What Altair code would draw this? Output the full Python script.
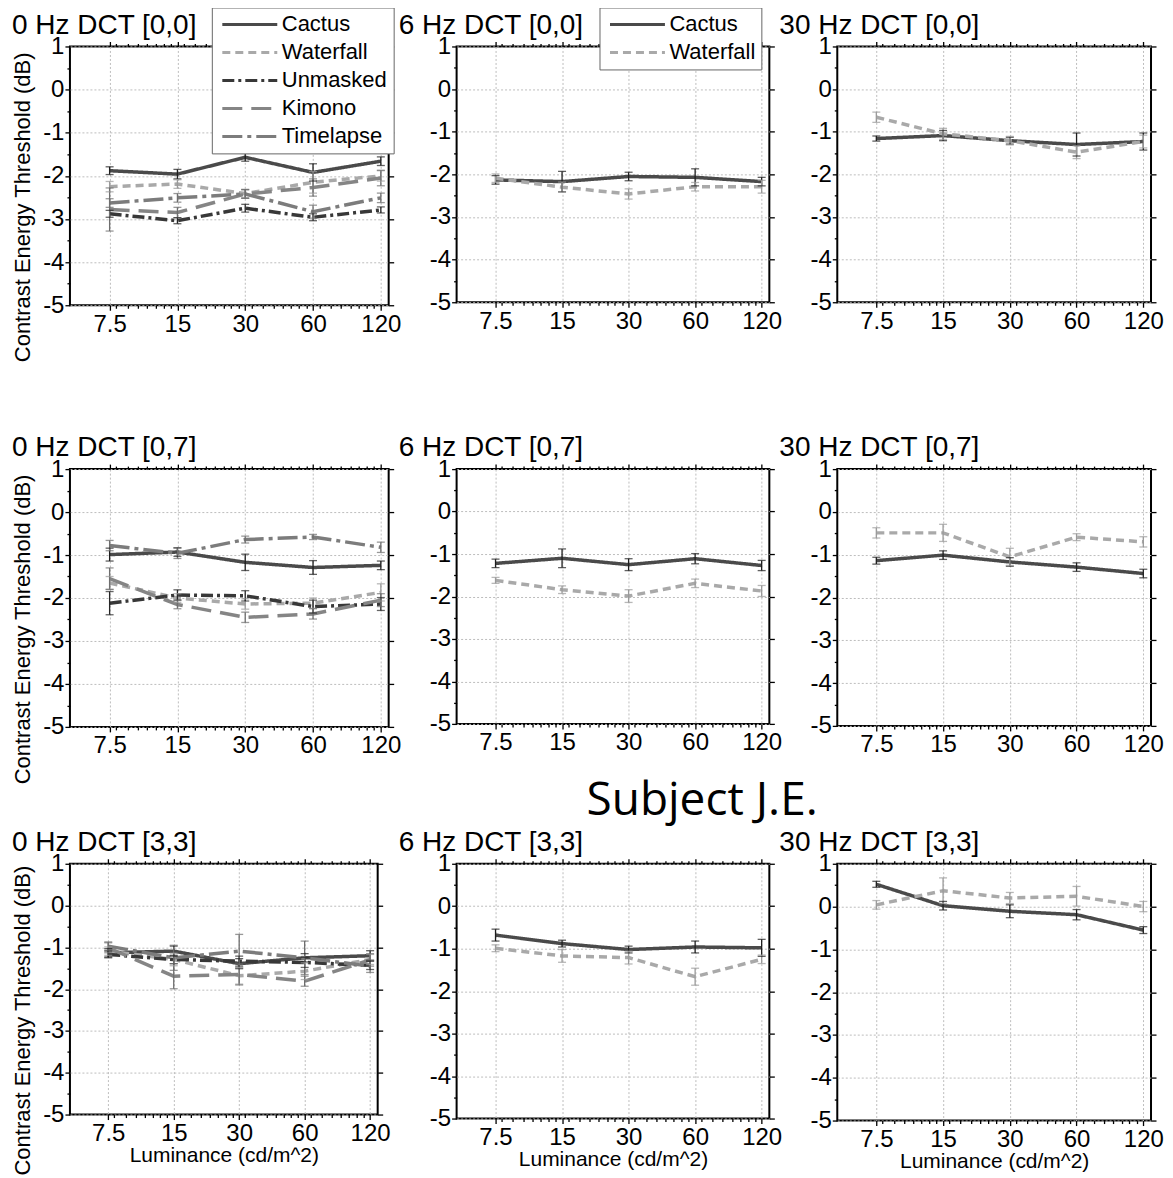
import altair as alt
import pandas as pd

FONT = "Liberation Sans"
BIG_FONT = "Open Sans"

LUMINANCE = [7.5, 15, 30, 60, 120]
SERIES = ["Cactus", "Waterfall", "Unmasked", "Kimono", "Timelapse"]

X_MAJOR = [7.5, 15, 30, 60, 120]
X_MINOR = [8, 9, 10, 11, 12, 13, 14, 16, 18, 20, 22, 24, 26, 28,
           32, 36, 40, 44, 48, 52, 56, 64, 72, 80, 88, 96, 104, 112]
X_DOMAIN = [5, 130]
Y_TICKS = [-5, -4.5, -4, -3.5, -3, -2.5, -2, -1.5, -1, -0.5, 0, 0.5, 1]
Y_MAJOR = [-5, -4, -3, -2, -1, 0, 1]
Y_DOMAIN = [-5, 1]

LINE_COLOR = ["#4a4a4a", "#a9a9a9", "#383838", "#858585", "#7c7c7c"]
ERR_COLOR = ["#1e1e1e", "#9a9a9a", "#262626", "#6e6e6e", "#6e6e6e"]
DASH = [[1, 0], [8, 5], [12, 4, 3, 4], [20, 9], [20, 5, 4, 5]]

# ---- 0 Hz DCT [0,0]
M_0HZ_00 = {
    "Cactus":    [-1.88, -1.96, -1.57, -1.92, -1.66],
    "Waterfall": [-2.25, -2.19, -2.41, -2.15, -2.00],
    "Unmasked":  [-2.88, -3.04, -2.75, -2.96, -2.79],
    "Kimono":    [-2.78, -2.85, -2.42, -2.27, -2.05],
    "Timelapse": [-2.63, -2.51, -2.42, -2.83, -2.51],
}
E_0HZ_00 = {
    "Cactus":    [0.09, 0.11, 0.09, 0.20, 0.10],
    "Waterfall": [0.12, 0.10, 0.10, 0.25, 0.12],
    "Unmasked":  [0.08, 0.07, 0.09, 0.08, 0.07],
    "Kimono":    [0.50, 0.12, 0.10, 0.20, 0.18],
    "Timelapse": [0.10, 0.10, 0.10, 0.15, 0.11],
}
# ---- 6 Hz DCT [0,0]
M_6HZ_00 = {
    "Cactus":    [-2.13, -2.17, -2.05, -2.07, -2.17],
    "Waterfall": [-2.09, -2.30, -2.46, -2.29, -2.29],
}
E_6HZ_00 = {
    "Cactus":    [0.10, 0.24, 0.10, 0.20, 0.10],
    "Waterfall": [0.10, 0.12, 0.12, 0.10, 0.15],
}
# ---- 30 Hz DCT [0,0]
M_30HZ_00 = {
    "Cactus":    [-1.16, -1.09, -1.21, -1.30, -1.23],
    "Waterfall": [-0.66, -1.05, -1.21, -1.48, -1.23],
}
E_30HZ_00 = {
    "Cactus":    [0.06, 0.12, 0.08, 0.27, 0.20],
    "Waterfall": [0.12, 0.13, 0.10, 0.15, 0.15],
}
# ---- 0 Hz DCT [0,7]
M_0HZ_07 = {
    "Cactus":    [-0.99, -0.93, -1.17, -1.29, -1.24],
    "Waterfall": [-1.65, -2.00, -2.14, -2.12, -1.87],
    "Unmasked":  [-2.12, -1.93, -1.95, -2.20, -2.14],
    "Kimono":    [-1.55, -2.15, -2.45, -2.37, -2.05],
    "Timelapse": [-0.78, -0.96, -0.64, -0.58, -0.82],
}
E_0HZ_07 = {
    "Cactus":    [0.15, 0.10, 0.19, 0.16, 0.10],
    "Waterfall": [0.15, 0.10, 0.12, 0.12, 0.20],
    "Unmasked":  [0.27, 0.12, 0.12, 0.15, 0.15],
    "Kimono":    [0.25, 0.10, 0.12, 0.12, 0.15],
    "Timelapse": [0.12, 0.12, 0.08, 0.06, 0.12],
}
# ---- 6 Hz DCT [0,7]
M_6HZ_07 = {
    "Cactus":    [-1.22, -1.10, -1.25, -1.11, -1.27],
    "Waterfall": [-1.62, -1.84, -1.99, -1.69, -1.87],
}
E_6HZ_07 = {
    "Cactus":    [0.10, 0.22, 0.14, 0.12, 0.12],
    "Waterfall": [0.07, 0.09, 0.15, 0.10, 0.13],
}
# ---- 30 Hz DCT [0,7]
M_30HZ_07 = {
    "Cactus":    [-1.14, -1.01, -1.17, -1.29, -1.44],
    "Waterfall": [-0.49, -0.49, -1.05, -0.59, -0.70],
}
E_30HZ_07 = {
    "Cactus":    [0.08, 0.10, 0.10, 0.10, 0.10],
    "Waterfall": [0.12, 0.20, 0.20, 0.08, 0.12],
}
# ---- 0 Hz DCT [3,3]
M_0HZ_33 = {
    "Cactus":    [-1.13, -1.09, -1.39, -1.25, -1.20],
    "Waterfall": [-1.09, -1.29, -1.68, -1.57, -1.29],
    "Unmasked":  [-1.17, -1.29, -1.33, -1.36, -1.43],
    "Kimono":    [-1.01, -1.69, -1.65, -1.81, -1.30],
    "Timelapse": [-0.97, -1.25, -1.09, -1.25, -1.45],
}
E_0HZ_33 = {
    "Cactus":    [0.10, 0.12, 0.12, 0.10, 0.12],
    "Waterfall": [0.10, 0.15, 0.20, 0.20, 0.12],
    "Unmasked":  [0.08, 0.10, 0.12, 0.12, 0.10],
    "Kimono":    [0.12, 0.30, 0.25, 0.12, 0.15],
    "Timelapse": [0.10, 0.30, 0.40, 0.40, 0.15],
}
# ---- 6 Hz DCT [3,3]
M_6HZ_33 = {
    "Cactus":    [-0.68, -0.88, -1.02, -0.96, -0.98],
    "Waterfall": [-0.99, -1.17, -1.21, -1.66, -1.25],
}
E_6HZ_33 = {
    "Cactus":    [0.14, 0.08, 0.08, 0.14, 0.20],
    "Waterfall": [0.08, 0.15, 0.15, 0.20, 0.10],
}
# ---- 30 Hz DCT [3,3]
M_30HZ_33 = {
    "Cactus":    [0.52, 0.02, -0.11, -0.19, -0.55],
    "Waterfall": [0.04, 0.37, 0.20, 0.24, 0.00],
}
E_30HZ_33 = {
    "Cactus":    [0.07, 0.10, 0.15, 0.12, 0.08],
    "Waterfall": [0.10, 0.30, 0.13, 0.23, 0.12],
}

X_TEST = "indexof([%s], datum.value) >= 0" % ",".join(str(v) for v in X_MAJOR)
Y_TEST = "datum.value % 1 == 0"


def make_legend(x, y):
    return alt.Legend(
        orient="none", legendX=x, legendY=y, title=None, direction="vertical",
        symbolType="stroke", symbolSize=3025, symbolStrokeWidth=3,
        clipHeight=22, rowPadding=6, padding=6, symbolOffset=3, labelOffset=3,
        labelFont=FONT, labelFontSize=22, labelColor="black", labelLimit=300,
        strokeColor="#666666", fillColor="white",
    )


def panel(title, means, errs, width, height, first_col, last_row, legend_pos=None, title_offset=-5):
    names = [s for s in SERIES if s in means]
    idx = [SERIES.index(s) for s in names]
    rows = []
    for s in names:
        for lum, m, e in zip(LUMINANCE, means[s], errs[s]):
            rows.append({"lum": lum, "series": s, "eb": s, "val": m,
                         "lo": round(m - e, 3), "hi": round(m + e, 3)})
    df = pd.DataFrame(rows)

    xs = alt.Scale(type="log", domain=X_DOMAIN, nice=False)
    ys = alt.Scale(domain=Y_DOMAIN, nice=False, zero=False)

    xaxis_kw = dict(
        orient="bottom", values=X_MAJOR + X_MINOR,
        labelExpr=f"{X_TEST} ? '' + datum.value : ''",
        tickSize={"condition": {"test": X_TEST, "value": 5}, "value": 3},
        grid=True, gridColor="#bdbdbd", gridDash=[2, 2], gridWidth=1,
        gridOpacity={"condition": {"test": X_TEST, "value": 1}, "value": 0},
        labelFontSize=24, labelPadding=2, labelFlush=False, labelOverlap=False,
    )
    if last_row:
        xaxis_kw.update(title="Luminance (cd/m^2)", titleFontSize=21, titlePadding=-1)
    else:
        xaxis_kw.update(title=None)

    yaxis_kw = dict(
        orient="left", values=Y_TICKS,
        labelExpr=f"{Y_TEST} ? '' + datum.value : ''",
        tickSize={"condition": {"test": Y_TEST, "value": 5}, "value": 3},
        grid=True, gridColor="#bdbdbd", gridDash=[2, 2], gridWidth=1,
        gridOpacity={"condition": {"test": Y_TEST, "value": 1}, "value": 0},
        labelFontSize=24, labelPadding=1, labelOverlap=False,
    )
    if first_col:
        yaxis_kw.update(title="Contrast Energy Threshold (dB)", titleFontSize=22,
                        titleX=-35, titleY=height / 2 + 31, titleAngle=270,
                        titleAlign="center", titleBaseline="bottom")
    else:
        yaxis_kw.update(title=None)

    top_axis = alt.Axis(orient="top", values=X_MAJOR + X_MINOR, labels=False, grid=False,
                        tickSize={"condition": {"test": X_TEST, "value": 5}, "value": 3},
                        title=None)
    right_axis = alt.Axis(orient="right", values=Y_MAJOR, labels=False, grid=False,
                          tickSize=5, title=None)

    color_scale = alt.Scale(domain=names, range=[LINE_COLOR[i] for i in idx])
    dash_scale = alt.Scale(domain=names, range=[DASH[i] for i in idx])
    err_scale = alt.Scale(domain=names, range=[ERR_COLOR[i] for i in idx])
    leg = make_legend(*legend_pos) if legend_pos else None

    base = alt.Chart(df)
    lines = base.mark_line(strokeWidth=3.5).encode(
        x=alt.X("lum:Q", scale=xs, axis=alt.Axis(**xaxis_kw)),
        y=alt.Y("val:Q", scale=ys, axis=alt.Axis(**yaxis_kw)),
        color=alt.Color("series:N", scale=color_scale, legend=leg),
        strokeDash=alt.StrokeDash("series:N", scale=dash_scale, legend=leg),
    )
    ecolor = alt.Color("eb:N", scale=err_scale, legend=None)
    bars = base.mark_rule(strokeWidth=1.3).encode(
        x=alt.X("lum:Q", scale=xs, axis=None),
        y=alt.Y("lo:Q", scale=ys, axis=None),
        y2="hi:Q",
        color=ecolor,
    )
    cap_lo = base.mark_tick(orient="horizontal", size=8, thickness=1.3).encode(
        x=alt.X("lum:Q", scale=xs, axis=None),
        y=alt.Y("lo:Q", scale=ys, axis=None),
        color=ecolor,
    )
    cap_hi = base.mark_tick(orient="horizontal", size=8, thickness=1.3).encode(
        x=alt.X("lum:Q", scale=xs, axis=None),
        y=alt.Y("hi:Q", scale=ys, axis=None),
        color=ecolor,
    )
    ghost = base.mark_point(opacity=0).encode(
        x=alt.X("lum:Q", scale=xs, axis=top_axis),
        y=alt.Y("val:Q", scale=ys, axis=right_axis),
    )
    return alt.layer(lines, bars, cap_lo, cap_hi, ghost).resolve_scale(
        color="independent", strokeDash="independent"
    ).resolve_axis(x="independent", y="independent").properties(
        width=width, height=height,
        title=alt.TitleParams(title, anchor="start", frame="group", dx=-58, offset=title_offset,
                              font=FONT, fontSize=28, fontWeight="normal", color="black"),
    )


p11 = panel("0 Hz DCT [0,0]", M_0HZ_00, E_0HZ_00, 319, 259, True, False, (142, -39), -33)
p12 = panel("6 Hz DCT [0,0]", M_6HZ_00, E_6HZ_00, 313, 256, False, False, (143, -39), -33)
p13 = panel("30 Hz DCT [0,0]", M_30HZ_00, E_30HZ_00, 314, 256, False, False, None, -6)
p21 = panel("0 Hz DCT [0,7]", M_0HZ_07, E_0HZ_07, 319, 258, True, False)
p22 = panel("6 Hz DCT [0,7]", M_6HZ_07, E_6HZ_07, 313, 255, False, False)
p23 = panel("30 Hz DCT [0,7]", M_30HZ_07, E_30HZ_07, 314, 257, False, False)
p31 = panel("0 Hz DCT [3,3]", M_0HZ_33, E_0HZ_33, 308, 251, True, True)
p32 = panel("6 Hz DCT [3,3]", M_6HZ_33, E_6HZ_33, 313, 255, False, True)
p33 = panel("30 Hz DCT [3,3]", M_30HZ_33, E_30HZ_33, 314, 257, False, True)

RES = dict(color="independent", strokeDash="independent")

row1 = alt.hconcat(p11, p12, p13, spacing=68, bounds="flush").resolve_scale(**RES)
rows23 = alt.concat(p21, p22, p23, p31, p32, p33, columns=3,
                    spacing={"row": 137, "column": 68}, bounds="flush").resolve_scale(**RES)

chart = alt.vconcat(row1, rows23, spacing=70).resolve_scale(**RES).properties(
    padding={"left": 2, "top": -3, "right": 0, "bottom": 0},
    background="white",
    title=alt.TitleParams("Subject J.E.", anchor="start", frame="bounds", dx=576, offset=-820,
                          font=BIG_FONT, fontSize=46, fontWeight="normal", color="black"),
)

chart = chart.configure_view(stroke="black", strokeWidth=2).configure_axis(
    domain=False, tickColor="black", tickWidth=1.3, labelFont=FONT, titleFont=FONT,
    labelColor="black", titleColor="black", titleFontWeight="normal",
)

chart.save("out.html", embed_options={"renderer": "svg", "actions": False})
